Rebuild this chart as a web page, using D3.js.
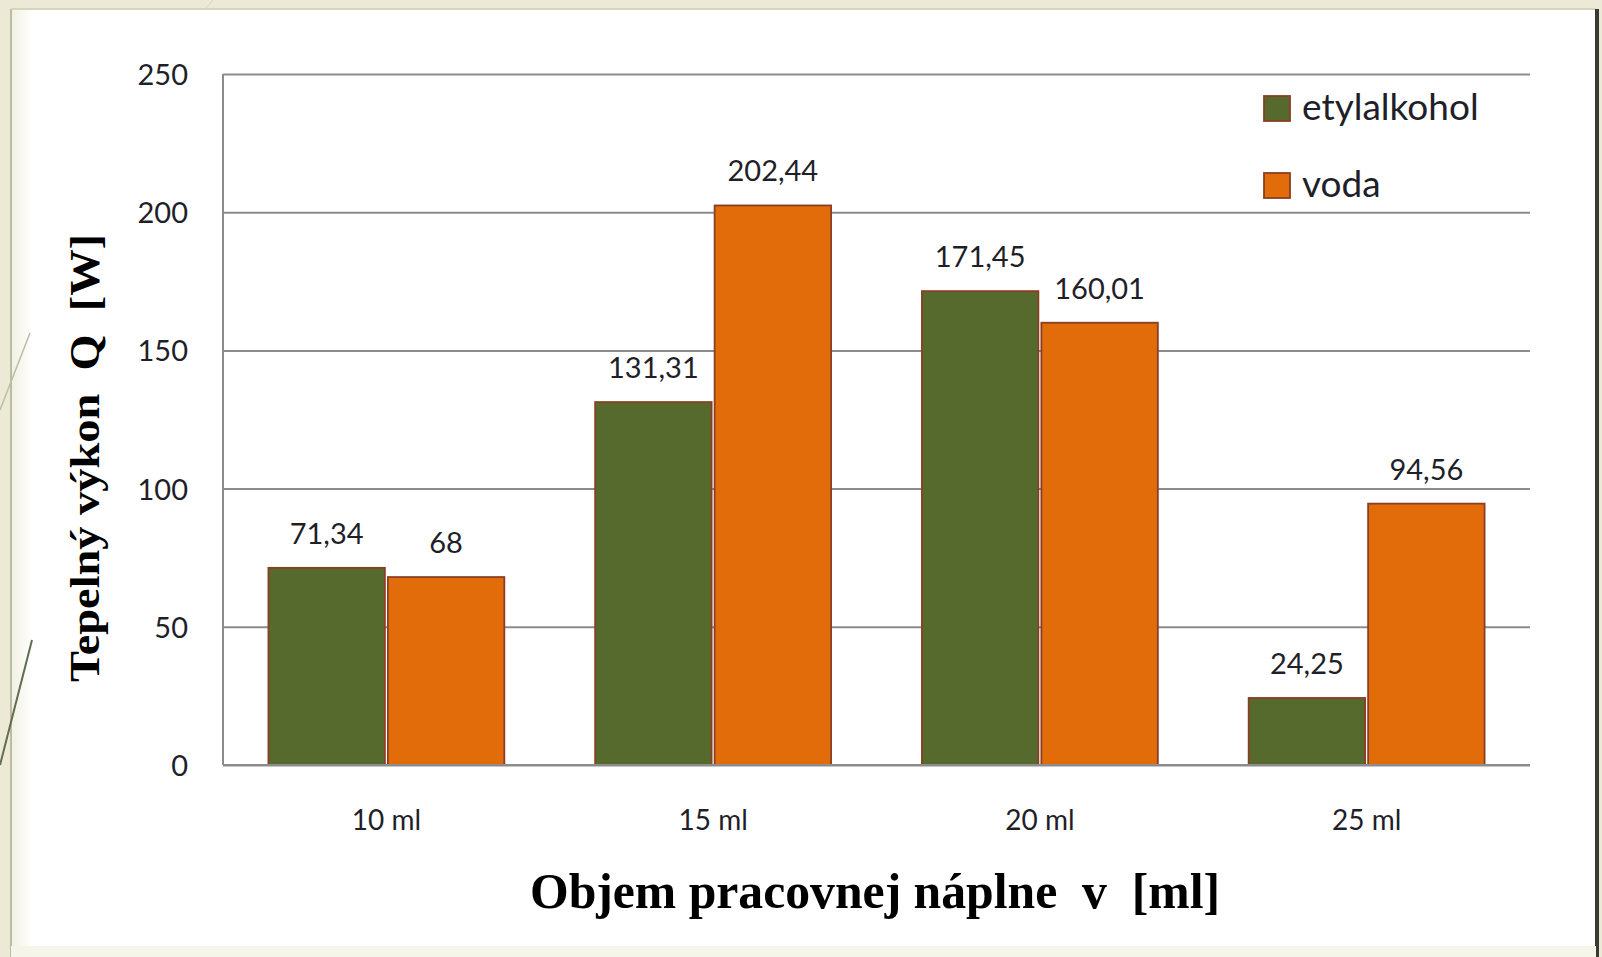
<!DOCTYPE html>
<html>
<head>
<meta charset="utf-8">
<script src="https://cdn.jsdelivr.net/npm/d3@7"></script>
<style>
  html, body { margin: 0; padding: 0; background: #ecead6; }
  .tick-label { font-family: Lato, "Open Sans", sans-serif; fill: #1f1f2a; }
  .axis-title { font-family: "Liberation Serif", "Times New Roman", serif; font-weight: bold; fill: #000; }
</style>
</head>
<body>
<div class="chart"></div>
<script>
// chart data
var categories = ["10 ml", "15 ml", "20 ml", "25 ml"];
var seriesNames = ["etylalkohol", "voda"];
var etylalkohol = [71.34, 131.31, 171.45, 24.25];
var voda = [68, 202.44, 160.01, 94.56];
var valueLabels = [["71,34", "131,31", "171,45", "24,25"], ["68", "202,44", "160,01", "94,56"]];
var yTicks = [0, 50, 100, 150, 200, 250];

var colors = ["#566a2e", "#e36c0a"];
var borderColor = "#8a3f24";

var svgWidth = 1602;
var svgHeight = 957;

var margin = { top: 74, right: 72, bottom: 192, left: 223 };
var width = svgWidth - margin.left - margin.right;
var height = svgHeight - margin.top - margin.bottom;

var svg = d3.select(".chart")
    .append("svg")
    .attr("width", svgWidth)
    .attr("height", svgHeight)
    .style("display", "block");

// slide background and white panel
svg.append("rect")
    .attr("x", 0).attr("y", 0)
    .attr("width", svgWidth).attr("height", svgHeight)
    .attr("fill", "#ecead6");

var defs = svg.append("defs");
var edge = defs.append("linearGradient").attr("id", "leftEdge");
edge.append("stop").attr("offset", "0").attr("stop-color", "#f1f0e2");
edge.append("stop").attr("offset", "1").attr("stop-color", "#ffffff");

svg.append("rect")
    .attr("x", 11).attr("y", 9)
    .attr("width", 1585).attr("height", 940)
    .attr("fill", "#ffffff");
svg.append("rect")
    .attr("x", 11).attr("y", 9)
    .attr("width", 22).attr("height", 940)
    .attr("fill", "url(#leftEdge)");
svg.append("line")
    .attr("x1", 11).attr("x2", 11).attr("y1", 9).attr("y2", 957)
    .attr("stroke", "#bdbba0").attr("stroke-width", 2);
svg.append("line")
    .attr("x1", 11).attr("x2", 1596).attr("y1", 9).attr("y2", 9)
    .attr("stroke", "#d6d4bd").attr("stroke-width", 2);
svg.append("line")
    .attr("x1", 1597).attr("x2", 1597).attr("y1", 9).attr("y2", 957)
    .attr("stroke", "#3a3a30").attr("stroke-width", 4);
svg.append("rect")
    .attr("x", 11).attr("y", 946)
    .attr("width", 1585).attr("height", 11)
    .attr("fill", "#f6f5ea");

// decorative slide lines
svg.append("line")
    .attr("x1", 30).attr("y1", 333).attr("x2", 0).attr("y2", 410)
    .attr("stroke", "#b9bfa2").attr("stroke-width", 1.5);
svg.append("line")
    .attr("x1", 32).attr("y1", 640).attr("x2", 0).attr("y2", 765)
    .attr("stroke", "#5e6e4e").attr("stroke-width", 2);
svg.append("line")
    .attr("x1", 205).attr("y1", 9).attr("x2", 213).attr("y2", 0)
    .attr("stroke", "#d0d0c0").attr("stroke-width", 1);

var chart = svg.append("g")
    .attr("transform", "translate(" + margin.left + "," + margin.top + ")");

// scales
var x0 = d3.scaleBand()
    .domain(categories)
    .range([0, width])
    .paddingInner(0.278)
    .paddingOuter(0.139);

var x1 = d3.scaleBand()
    .domain(seriesNames)
    .range([0, x0.bandwidth()])
    .paddingInner(0.025);

var yLinearScale = d3.scaleLinear()
    .domain([0, 250])
    .range([height, 0]);

// gridlines
chart.append("g")
    .call(d3.axisLeft(yLinearScale).tickValues(yTicks).tickSize(-width).tickFormat(""))
    .call(function(g) { g.select(".domain").remove(); })
    .selectAll(".tick line")
    .attr("stroke", "#8c8c8c")
    .attr("stroke-width", 2);

// y axis labels
chart.append("g")
    .call(d3.axisLeft(yLinearScale).tickValues(yTicks).tickSize(0).tickPadding(35))
    .call(function(g) { g.select(".domain").remove(); })
    .selectAll("text")
    .attr("class", "tick-label")
    .attr("font-size", "29px")
    .attr("dy", "0.36em");

// bars
var rows = categories.map(function(c, i) {
    return { category: c, values: [etylalkohol[i], voda[i]], labels: [valueLabels[0][i], valueLabels[1][i]] };
});

var groups = chart.selectAll(".group")
    .data(rows)
    .enter()
    .append("g")
    .attr("class", "group")
    .attr("transform", function(d) { return "translate(" + x0(d.category) + ",0)"; });

var barData = function(d) {
    return seriesNames.map(function(s, j) {
        return { series: s, value: d.values[j], label: d.labels[j], index: j };
    });
};

groups.selectAll("rect")
    .data(barData)
    .enter()
    .append("rect")
    .attr("x", function(d) { return x1(d.series); })
    .attr("y", function(d) { return yLinearScale(d.value); })
    .attr("width", x1.bandwidth())
    .attr("height", function(d) { return height - yLinearScale(d.value); })
    .attr("fill", function(d) { return colors[d.index]; })
    .attr("stroke", borderColor)
    .attr("stroke-width", 1.8);

groups.selectAll("text")
    .data(barData)
    .enter()
    .append("text")
    .attr("class", "tick-label")
    .attr("x", function(d) { return x1(d.series) + x1.bandwidth() / 2; })
    .attr("y", function(d) { return yLinearScale(d.value) - 24; })
    .attr("text-anchor", "middle")
    .attr("font-size", "29px")
    .text(function(d) { return d.label; });

// axis lines
chart.append("line")
    .attr("x1", 0).attr("x2", 0).attr("y1", 0).attr("y2", height)
    .attr("stroke", "#8c8c8c").attr("stroke-width", 2);
chart.append("line")
    .attr("x1", 0).attr("x2", width).attr("y1", height).attr("y2", height)
    .attr("stroke", "#8c8c8c").attr("stroke-width", 2);

// x axis labels
chart.append("g")
    .attr("transform", "translate(0," + height + ")")
    .call(d3.axisBottom(x0).tickSize(0).tickPadding(45))
    .call(function(g) { g.select(".domain").remove(); })
    .selectAll("text")
    .attr("class", "tick-label")
    .attr("font-size", "28px");

// axis titles
chart.append("text")
    .attr("class", "axis-title")
    .attr("transform", "rotate(-90)")
    .attr("x", 0 - 458 + margin.top)
    .attr("y", 99 - margin.left)
    .attr("text-anchor", "middle")
    .attr("font-size", "43px")
    .attr("textLength", 448)
    .attr("lengthAdjust", "spacingAndGlyphs")
    .style("white-space", "pre")
    .text("Tepelný výkon  Q  [W]");

chart.append("text")
    .attr("class", "axis-title")
    .attr("x", 875 - margin.left)
    .attr("y", 908 - margin.top)
    .attr("text-anchor", "middle")
    .attr("font-size", "50px")
    .attr("textLength", 690)
    .attr("lengthAdjust", "spacingAndGlyphs")
    .style("white-space", "pre")
    .text("Objem pracovnej náplne  v  [ml]");

// legend
var legend = svg.append("g")
    .attr("transform", "translate(1264,96)");

var legendItems = legend.selectAll("g")
    .data(seriesNames)
    .enter()
    .append("g")
    .attr("transform", function(d, i) { return "translate(0," + (i * 77) + ")"; });

legendItems.append("rect")
    .attr("width", 26)
    .attr("height", 25)
    .attr("fill", function(d, i) { return colors[i]; })
    .attr("stroke", borderColor)
    .attr("stroke-width", 1.8);

legendItems.append("text")
    .attr("class", "tick-label")
    .attr("x", 38)
    .attr("y", 24)
    .attr("font-size", "37px")
    .text(function(d) { return d; });
</script>
</body>
</html>
